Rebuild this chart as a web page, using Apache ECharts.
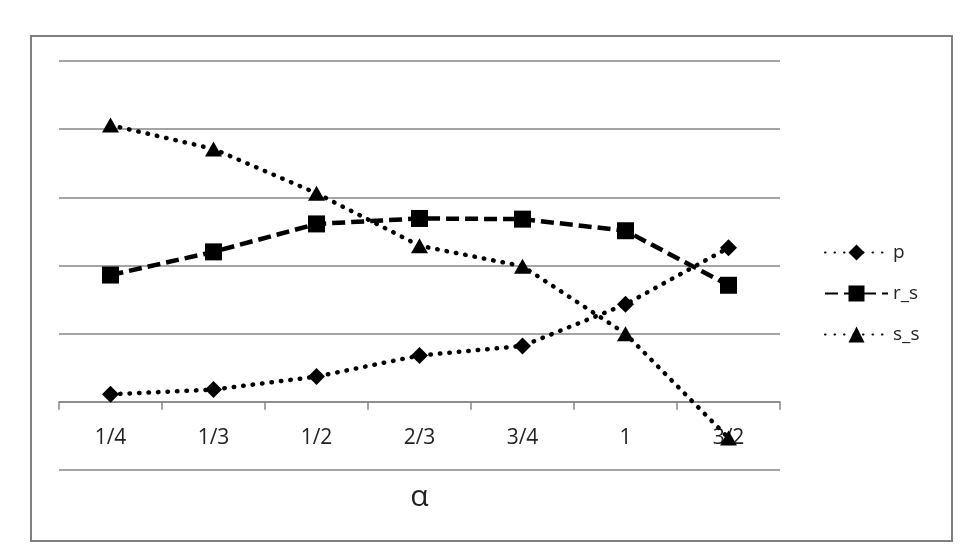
<!DOCTYPE html>
<html>
<head>
<meta charset="utf-8">
<script src="https://cdn.jsdelivr.net/npm/echarts@6/dist/echarts.min.js"></script>
<style>
    html, body { margin: 0; padding: 0; background: #fff; }
    #mychart { width: 974px; height: 557px; }
</style>
</head>
<body>
<div id="mychart"></div>
<script>
// 横轴类别
var alphaLabels = ['1/4', '1/3', '1/2', '2/3', '3/4', '1', '3/2'];
// 各序列数值
var pData = [0.11, 0.18, 0.37, 0.68, 0.82, 1.43, 2.26];
var rsData = [1.86, 2.20, 2.61, 2.69, 2.68, 2.51, 1.71];
var ssData = [4.06, 3.71, 3.06, 2.29, 1.99, 1.00, -0.53];

var myChart = echarts.init(document.getElementById('mychart'));
var fontName = '"Open Sans", "Noto Sans", sans-serif';
var gray = '#868686';

myChart.setOption({
    backgroundColor: '#fff',
    animation: false,
    graphic: [{
        type: 'rect',
        z: -1,
        shape: { x: 31, y: 36, width: 921, height: 505 },
        style: { fill: 'none', stroke: '#7f7f7f', lineWidth: 2 }
    }],
    grid: {
        left: 59,
        right: 194,
        top: 61,
        bottom: 87,
        outerBoundsMode: 'none',
        containLabel: false
    },
    legend: {
        orient: 'vertical',
        left: 819,
        top: 238,
        itemWidth: 63,
        itemHeight: 20,
        itemGap: 22,
        textStyle: { fontFamily: fontName, fontSize: 19, color: '#222' },
        data: ['p', 'r_s', 's_s']
    },
    xAxis: {
        type: 'category',
        data: alphaLabels,
        name: 'α',
        nameLocation: 'middle',
        nameGap: 12,
        nameTextStyle: { fontFamily: fontName, fontSize: 30, color: '#222' },
        axisLine: { onZero: true, lineStyle: { color: gray, width: 1.5 } },
        axisTick: { show: true, length: 8, lineStyle: { color: gray, width: 1.5 } },
        axisLabel: { fontFamily: fontName, fontSize: 21, color: '#222', margin: -42 }
    },
    yAxis: {
        type: 'value',
        min: -1,
        max: 5,
        interval: 1,
        axisLine: { show: false },
        axisTick: { show: false },
        axisLabel: { show: false },
        splitLine: { lineStyle: { color: gray, width: 1.5 } }
    },
    series: [
        {
            name: 'p',
            type: 'line',
            data: pData,
            symbol: 'diamond',
            symbolSize: 17,
            itemStyle: { color: '#000' },
            lineStyle: { color: '#000', width: 4.5, type: [0.5, 9], cap: 'round' }
        },
        {
            name: 'r_s',
            type: 'line',
            data: rsData,
            symbol: 'rect',
            symbolSize: 17,
            itemStyle: { color: '#000' },
            lineStyle: { color: '#000', width: 4.5, type: [13, 6] }
        },
        {
            name: 's_s',
            type: 'line',
            data: ssData,
            symbol: 'triangle',
            symbolSize: [17, 15],
            itemStyle: { color: '#000' },
            lineStyle: { color: '#000', width: 4.5, type: [0.5, 9], cap: 'round' }
        }
    ]
});
</script>
</body>
</html>
